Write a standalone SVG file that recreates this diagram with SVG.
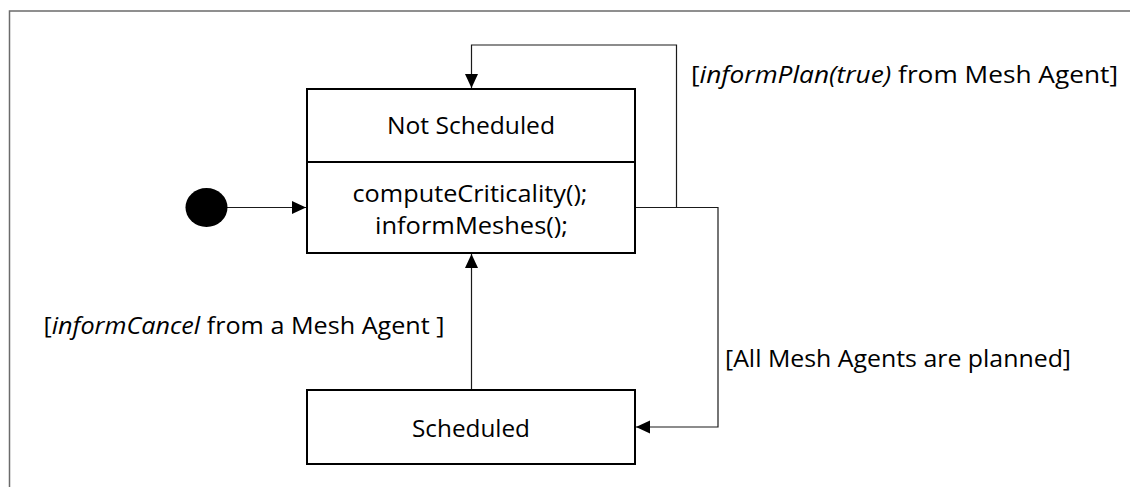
<svg xmlns="http://www.w3.org/2000/svg" width="1130" height="487" viewBox="0 0 1130 487">
  <style>
    .state { fill: #ffffff; stroke: #000000; stroke-width: 2; }
    .div { stroke: #000000; stroke-width: 2; }
    .conn { fill: none; stroke: #1a1a1a; stroke-width: 1.2; }
    .t { font-family: "Open Sans", "Liberation Sans", sans-serif; font-size: 23.5px; fill: #000000; }
    .mid { text-anchor: middle; }
    .it { font-style: italic; }
    .frame { fill: none; stroke: #6b6b6b; stroke-width: 1.5; }
  </style>
  <defs>
    <marker id="arrow" markerUnits="userSpaceOnUse" markerWidth="14" markerHeight="14" viewBox="0 0 14 14" refX="14" refY="7" orient="auto">
      <path d="M0,0.5 L14,7 L0,13.5 Z" fill="#000000"/>
    </marker>
  </defs>
  <rect width="1130" height="487" fill="#ffffff"/>
  <path class="frame" d="M9.5,487 L9.5,11 L1130,11"/>

  <g id="connectors">
    <line class="conn" x1="227" y1="207.5" x2="306" y2="207.5" marker-end="url(#arrow)"/>
    <path class="conn" d="M635,207.5 L676.5,207.5 L676.5,45 L471.5,45 L471.5,88" marker-end="url(#arrow)"/>
    <path class="conn" d="M676.5,207.5 L718,207.5 L718,427 L636,427" marker-end="url(#arrow)"/>
    <line class="conn" x1="471.5" y1="390" x2="471.5" y2="254" marker-end="url(#arrow)"/>
  </g>

  <g id="initial">
    <ellipse cx="206.5" cy="207.5" rx="21" ry="19.5" fill="#000000"/>
  </g>

  <g id="not-scheduled">
    <rect class="state" x="307" y="89" width="328" height="164"/>
    <line class="div" x1="307" y1="162" x2="635" y2="162"/>
    <text class="t mid" x="471" y="134" textLength="168" lengthAdjust="spacingAndGlyphs">Not Scheduled</text>
    <text class="t mid" x="470" y="201.5" textLength="235" lengthAdjust="spacingAndGlyphs">computeCriticality();</text>
    <text class="t mid" x="471.5" y="234" textLength="193" lengthAdjust="spacingAndGlyphs">informMeshes();</text>
  </g>

  <g id="scheduled">
    <rect class="state" x="307" y="390" width="328" height="74"/>
    <text class="t mid" x="471" y="436.5" textLength="118" lengthAdjust="spacingAndGlyphs">Scheduled</text>
  </g>

  <g id="labels">
    <text class="t" x="691" y="82.5" textLength="427" lengthAdjust="spacingAndGlyphs">[<tspan class="it">informPlan(true)</tspan> from Mesh Agent]</text>
    <text class="t" x="43.5" y="333.5" textLength="401" lengthAdjust="spacingAndGlyphs">[<tspan class="it">informCancel</tspan> from a Mesh Agent ]</text>
    <text class="t" x="725" y="366.5" textLength="346" lengthAdjust="spacingAndGlyphs">[All Mesh Agents are planned]</text>
  </g>
</svg>
